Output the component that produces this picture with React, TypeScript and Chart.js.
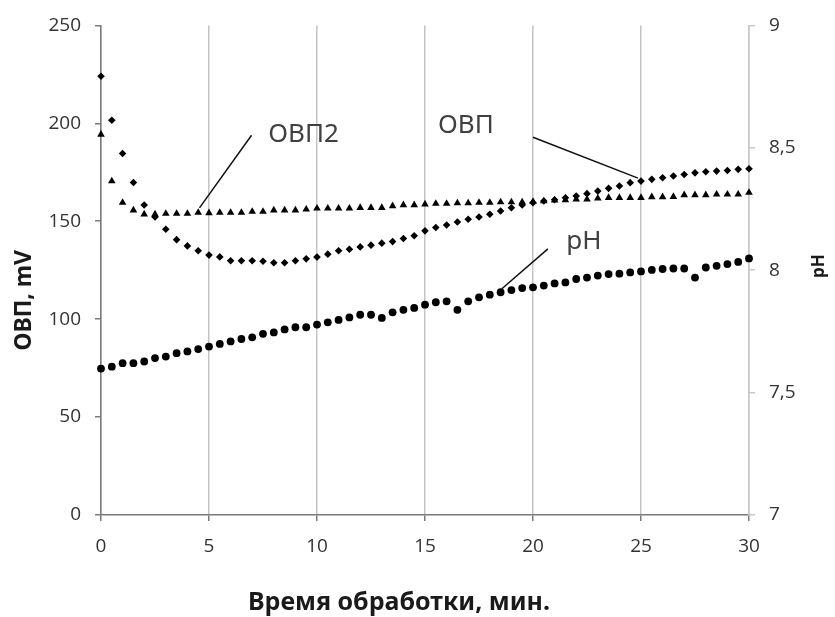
import { useEffect, useRef } from "react";
import { Chart, registerables } from "chart.js";

Chart.register(...registerables);

// Time, min
const times = [
  0, 0.5, 1, 1.5, 2, 2.5, 3, 3.5, 4, 4.5, 5, 5.5, 6, 6.5, 7, 7.5, 8, 8.5, 9, 9.5,
  10, 10.5, 11, 11.5, 12, 12.5, 13, 13.5, 14, 14.5, 15, 15.5, 16, 16.5, 17, 17.5,
  18, 18.5, 19, 19.5, 20, 20.5, 21, 21.5, 22, 22.5, 23, 23.5, 24, 24.5, 25, 25.5,
  26, 26.5, 27, 27.5, 28, 28.5, 29, 29.5, 30,
];

// ОВП, mV (diamonds)
const orpValues = [
  224, 201.6, 184.6, 169.8, 158.3, 152.2, 145.9, 140.6, 137.4, 134.9, 132.7, 131.8,
  129.8, 129.8, 129.8, 129.6, 128.8, 128.8, 129.8, 130.8, 131.7, 133.2, 134.9, 135.7,
  136.9, 137.8, 138.8, 139.6, 141.2, 142.6, 145.1, 146.8, 148.1, 149.6, 151.0, 152.2,
  153.6, 155.2, 156.9, 158.3, 159.5, 160.3, 161.0, 162.0, 162.9, 164.1, 165.4, 166.8,
  168.0, 169.7, 170.5, 171.4, 172.2, 173.1, 173.9, 174.7, 175.3, 175.6, 175.9, 176.5,
  176.8,
];

// ОВП2, mV (triangles)
const orp2Values = [
  194.3, 170.5, 159.5, 155.6, 153.6, 153.6, 153.9, 153.9, 153.9, 154.4, 154.2, 154.4,
  154.4, 154.4, 154.9, 154.9, 155.6, 155.6, 155.6, 156.1, 156.6, 156.6, 156.6, 156.6,
  156.9, 156.9, 156.9, 157.8, 158.3, 158.3, 158.7, 159.0, 159.0, 159.3, 159.3, 159.5,
  159.5, 159.8, 159.8, 159.8, 160.0, 160.3, 160.7, 160.8, 161.2, 161.2, 161.7, 162.0,
  162.0, 162.0, 162.0, 162.4, 162.4, 162.5, 163.4, 163.4, 163.4, 163.7, 163.7, 163.7,
  164.6,
];

// pH (circles, right axis)
const phValues = [
  7.598, 7.606, 7.62, 7.62, 7.627, 7.641, 7.647, 7.661, 7.668, 7.678, 7.688, 7.699,
  7.709, 7.719, 7.726, 7.74, 7.746, 7.758, 7.767, 7.767, 7.778, 7.787, 7.797, 7.807,
  7.818, 7.818, 7.805, 7.828, 7.838, 7.846, 7.859, 7.869, 7.873, 7.838, 7.873, 7.889,
  7.9, 7.91, 7.919, 7.927, 7.93, 7.937, 7.946, 7.95, 7.964, 7.97, 7.978, 7.984,
  7.986, 7.991, 7.995, 8.001, 8.005, 8.007, 8.007, 7.97, 8.011, 8.018, 8.025, 8.034,
  8.048,
];

const seriesLabels = ["ОВП", "ОВП2", "pH"];

// Axis ranges / ticks
const xRange = [0, 30];
const xStep = 5;
const leftRange = [0, 250];
const leftStep = 50;
const rightRange = [7, 9];
const rightStep = 0.5;

// Axis titles
const xTitle = "Время обработки, мин.";
const leftTitle = "ОВП, mV";
const rightTitle = "pH";

// Callout labels (in data units: time, mV)
const calloutTexts = ["ОВП2", "ОВП", "pH"];
const calloutTextT = [9.38, 16.89, 22.36];
const calloutTextV = [194.4, 199.0, 139.5];
const calloutFromT = [4.56, 20.0, 20.69];
const calloutFromV = [156.8, 192.9, 135.9];
const calloutToT = [6.97, 24.86, 18.56];
const calloutToV = [193.9, 172.0, 115.5];

const toPoints = (vals: number[]) => vals.map((v, i) => ({ x: times[i], y: v }));

const calloutPlugin = {
  id: "callouts",
  afterDatasetsDraw(chart: any) {
    const { ctx, scales } = chart;
    const xs = scales.x;
    const ys = scales.y;
    ctx.save();
    ctx.strokeStyle = "#111111";
    ctx.lineWidth = 1.5;
    for (let i = 0; i < calloutTexts.length; i++) {
      ctx.beginPath();
      ctx.moveTo(xs.getPixelForValue(calloutFromT[i]), ys.getPixelForValue(calloutFromV[i]));
      ctx.lineTo(xs.getPixelForValue(calloutToT[i]), ys.getPixelForValue(calloutToV[i]));
      ctx.stroke();
    }
    ctx.font = "26px 'Noto Sans'";
    ctx.fillStyle = "#404040";
    ctx.textAlign = "center";
    ctx.textBaseline = "middle";
    for (let i = 0; i < calloutTexts.length; i++) {
      ctx.fillText(
        calloutTexts[i],
        xs.getPixelForValue(calloutTextT[i]),
        ys.getPixelForValue(calloutTextV[i])
      );
    }
    ctx.restore();
  },
};

const axisTitlePlugin = {
  id: "axisTitles",
  afterDraw(chart: any) {
    const { ctx, chartArea } = chart;
    const { left, right, top, bottom } = chartArea;
    const midY = (top + bottom) / 2;
    const midX = (left + right) / 2;
    ctx.save();
    ctx.fillStyle = "#1a1a1a";
    ctx.textAlign = "center";
    ctx.textBaseline = "middle";

    ctx.font = "bold 23px 'Noto Sans'";
    ctx.save();
    ctx.translate(left - 77, midY + 30);
    ctx.rotate(-Math.PI / 2);
    ctx.fillText(leftTitle, 0, 0);
    ctx.restore();

    ctx.font = "bold 17px 'Noto Sans'";
    ctx.save();
    ctx.translate(right + 70, midY - 4);
    ctx.rotate(-Math.PI / 2);
    ctx.fillText(rightTitle, 0, 0);
    ctx.restore();

    ctx.font = "bold 25px 'Noto Sans'";
    ctx.fillText(xTitle, midX - 26, bottom + 88);
    ctx.restore();
  },
};

export default function App() {
  const canvasRef = useRef<HTMLCanvasElement | null>(null);

  useEffect(() => {
    const canvas = canvasRef.current;
    if (!canvas) return;
    const tickFont = { family: "'Open Sans'", size: 19 };
    const chart = new Chart(canvas, {
      type: "scatter",
      data: {
        datasets: [
          {
            label: seriesLabels[0],
            data: toPoints(orpValues),
            yAxisID: "y",
            pointStyle: "rectRot",
            pointRadius: 3.8,
            backgroundColor: "#000000",
            borderColor: "#000000",
            borderWidth: 0,
            clip: false,
          },
          {
            label: seriesLabels[1],
            data: toPoints(orp2Values),
            yAxisID: "y",
            pointStyle: "triangle",
            pointRadius: 4.4,
            backgroundColor: "#000000",
            borderColor: "#000000",
            borderWidth: 0,
            clip: false,
          },
          {
            label: seriesLabels[2],
            data: toPoints(phValues),
            yAxisID: "y1",
            pointStyle: "circle",
            pointRadius: 3.9,
            backgroundColor: "#000000",
            borderColor: "#000000",
            borderWidth: 0,
            clip: false,
          },
        ],
      },
      options: {
        responsive: false,
        animation: false,
        devicePixelRatio: 1,
        layout: { padding: { top: 24, left: 0, right: 0, bottom: 0 } },
        plugins: {
          legend: { display: false },
          tooltip: { enabled: false },
        },
        scales: {
          x: {
            type: "linear",
            position: "bottom",
            min: xRange[0],
            max: xRange[1],
            ticks: {
              stepSize: xStep,
              font: tickFont,
              color: "#333333",
              padding: 14,
            },
            grid: {
              color: "#c4c4c4",
              lineWidth: 1.5,
              tickLength: 6,
              tickColor: "#7a7a7a",
            },
            border: { color: "#7a7a7a", width: 1.5 },
            afterFit: (s: any) => {
              s.height = 102;
            },
          },
          y: {
            type: "linear",
            position: "left",
            min: leftRange[0],
            max: leftRange[1],
            ticks: {
              stepSize: leftStep,
              font: tickFont,
              color: "#333333",
              padding: 14,
            },
            grid: {
              drawOnChartArea: false,
              tickLength: 6,
              color: "#7a7a7a",
              lineWidth: 1.5,
            },
            border: { color: "#7a7a7a", width: 1.5 },
            afterFit: (s: any) => {
              s.width = 101;
            },
          },
          y1: {
            type: "linear",
            position: "right",
            min: rightRange[0],
            max: rightRange[1],
            ticks: {
              stepSize: rightStep,
              font: tickFont,
              color: "#333333",
              padding: 14,
              callback: (v: any) => String(v).replace(".", ","),
            },
            grid: {
              drawOnChartArea: false,
              tickLength: 6,
              color: "#c8c8c8",
              lineWidth: 1.5,
            },
            border: { color: "#c8c8c8", width: 1.5 },
            afterFit: (s: any) => {
              s.width = 86;
            },
          },
        },
      },
      plugins: [calloutPlugin, axisTitlePlugin],
    });
    return () => chart.destroy();
  }, []);

  return (
    <div style={{ position: "fixed", left: 0, top: 0, width: 835, height: 617, background: "#ffffff" }}>
      <canvas ref={canvasRef} width={835} height={617} />
    </div>
  );
}
